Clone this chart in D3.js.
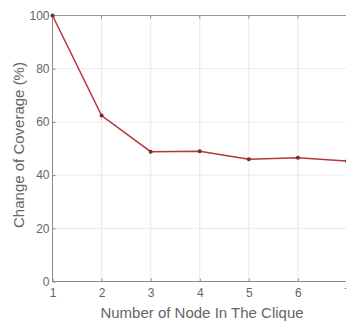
<!DOCTYPE html>
<html><head><meta charset="utf-8">
<script src="https://cdn.jsdelivr.net/npm/d3@7"></script>
<style>html,body{margin:0;padding:0;background:#fff;overflow:hidden}</style>
</head><body>
<svg id="c" width="346" height="322"></svg>
<script>
const nodes = [1, 2, 3, 4, 5, 6, 7];
const coverage = [100, 62.4, 48.8, 49.0, 46.0, 46.5, 45.3];
const xTicks = [1, 2, 3, 4, 5, 6, 7];
const yTicks = [0, 20, 40, 60, 80, 100];
const xLabel = "Number of Node In The Clique";
const yLabel = "Change of Coverage (%)";

const svg = d3.select("#c");
const x = d3.scaleLinear().domain([1, 7]).range([52.5, 347]);
const y = d3.scaleLinear().domain([0, 100]).range([281.5, 15.5]);
const font = "Liberation Sans, Arial, sans-serif";

// grid
const g = svg.append("g");
g.selectAll(".vg").data(xTicks.slice(1)).join("line")
  .attr("x1", d => x(d)).attr("x2", d => x(d))
  .attr("y1", y(0)).attr("y2", y(100))
  .attr("stroke", "#f1e4e6").attr("stroke-width", 1);
g.selectAll(".hg").data(yTicks.slice(1, -1)).join("line")
  .attr("x1", x(1)).attr("x2", 346)
  .attr("y1", d => y(d)).attr("y2", d => y(d))
  .attr("stroke", "#f3e6e8").attr("stroke-width", 1);

// axes
const xAxis = d3.axisBottom(x).tickValues(xTicks).tickSize(-3).tickPadding(7).tickFormat(d3.format("d"));
const yAxis = d3.axisLeft(y).tickValues(yTicks).tickSize(-3).tickPadding(3).tickFormat(d3.format("d"));
const gx = svg.append("g").attr("transform", `translate(0,${y(0)})`).call(xAxis);
const gy = svg.append("g").attr("transform", `translate(${x(1)},0)`).call(yAxis);
[gx, gy].forEach(a => {
  a.select(".domain").attr("stroke", "#8a8a8a");
  a.selectAll(".tick line").attr("stroke", "#8a8a8a");
  a.selectAll("text").attr("fill", "#666").style("font-family", font).style("font-size", "12px");
});
gx.select(".domain").attr("d", `M${x(1)},0H346`);
gy.select(".domain").attr("d", `M0,${y(0)}V${y(100)}`);
// top box line
svg.append("line").attr("x1", x(1)).attr("x2", 346).attr("y1", y(100)).attr("y2", y(100))
  .attr("stroke", "#9a9a9a").attr("stroke-width", 1);
svg.selectAll(".tt").data(xTicks).join("line")
  .attr("x1", d => x(d)).attr("x2", d => x(d)).attr("y1", y(100)).attr("y2", y(100) + 3)
  .attr("stroke", "#8a8a8a");

// line
const line = d3.line().x((d, i) => x(nodes[i])).y(d => y(d));
svg.append("path").datum(coverage).attr("d", line)
  .attr("fill", "none").attr("stroke", "#b8353a").attr("stroke-width", 1.5);
svg.selectAll(".pt").data(coverage).join("circle")
  .attr("cx", (d, i) => x(nodes[i])).attr("cy", d => y(d)).attr("r", 2)
  .attr("fill", "#7a2a2e");

// labels
svg.append("text").attr("x", 202).attr("y", 318).attr("text-anchor", "middle")
  .attr("fill", "#666").style("font-family", font).style("font-size", "15px").text(xLabel);
svg.append("text").attr("transform", "translate(24,145) rotate(-90)").attr("text-anchor", "middle")
  .attr("fill", "#666").style("font-family", font).style("font-size", "15px").text(yLabel);
</script>
</body></html>
